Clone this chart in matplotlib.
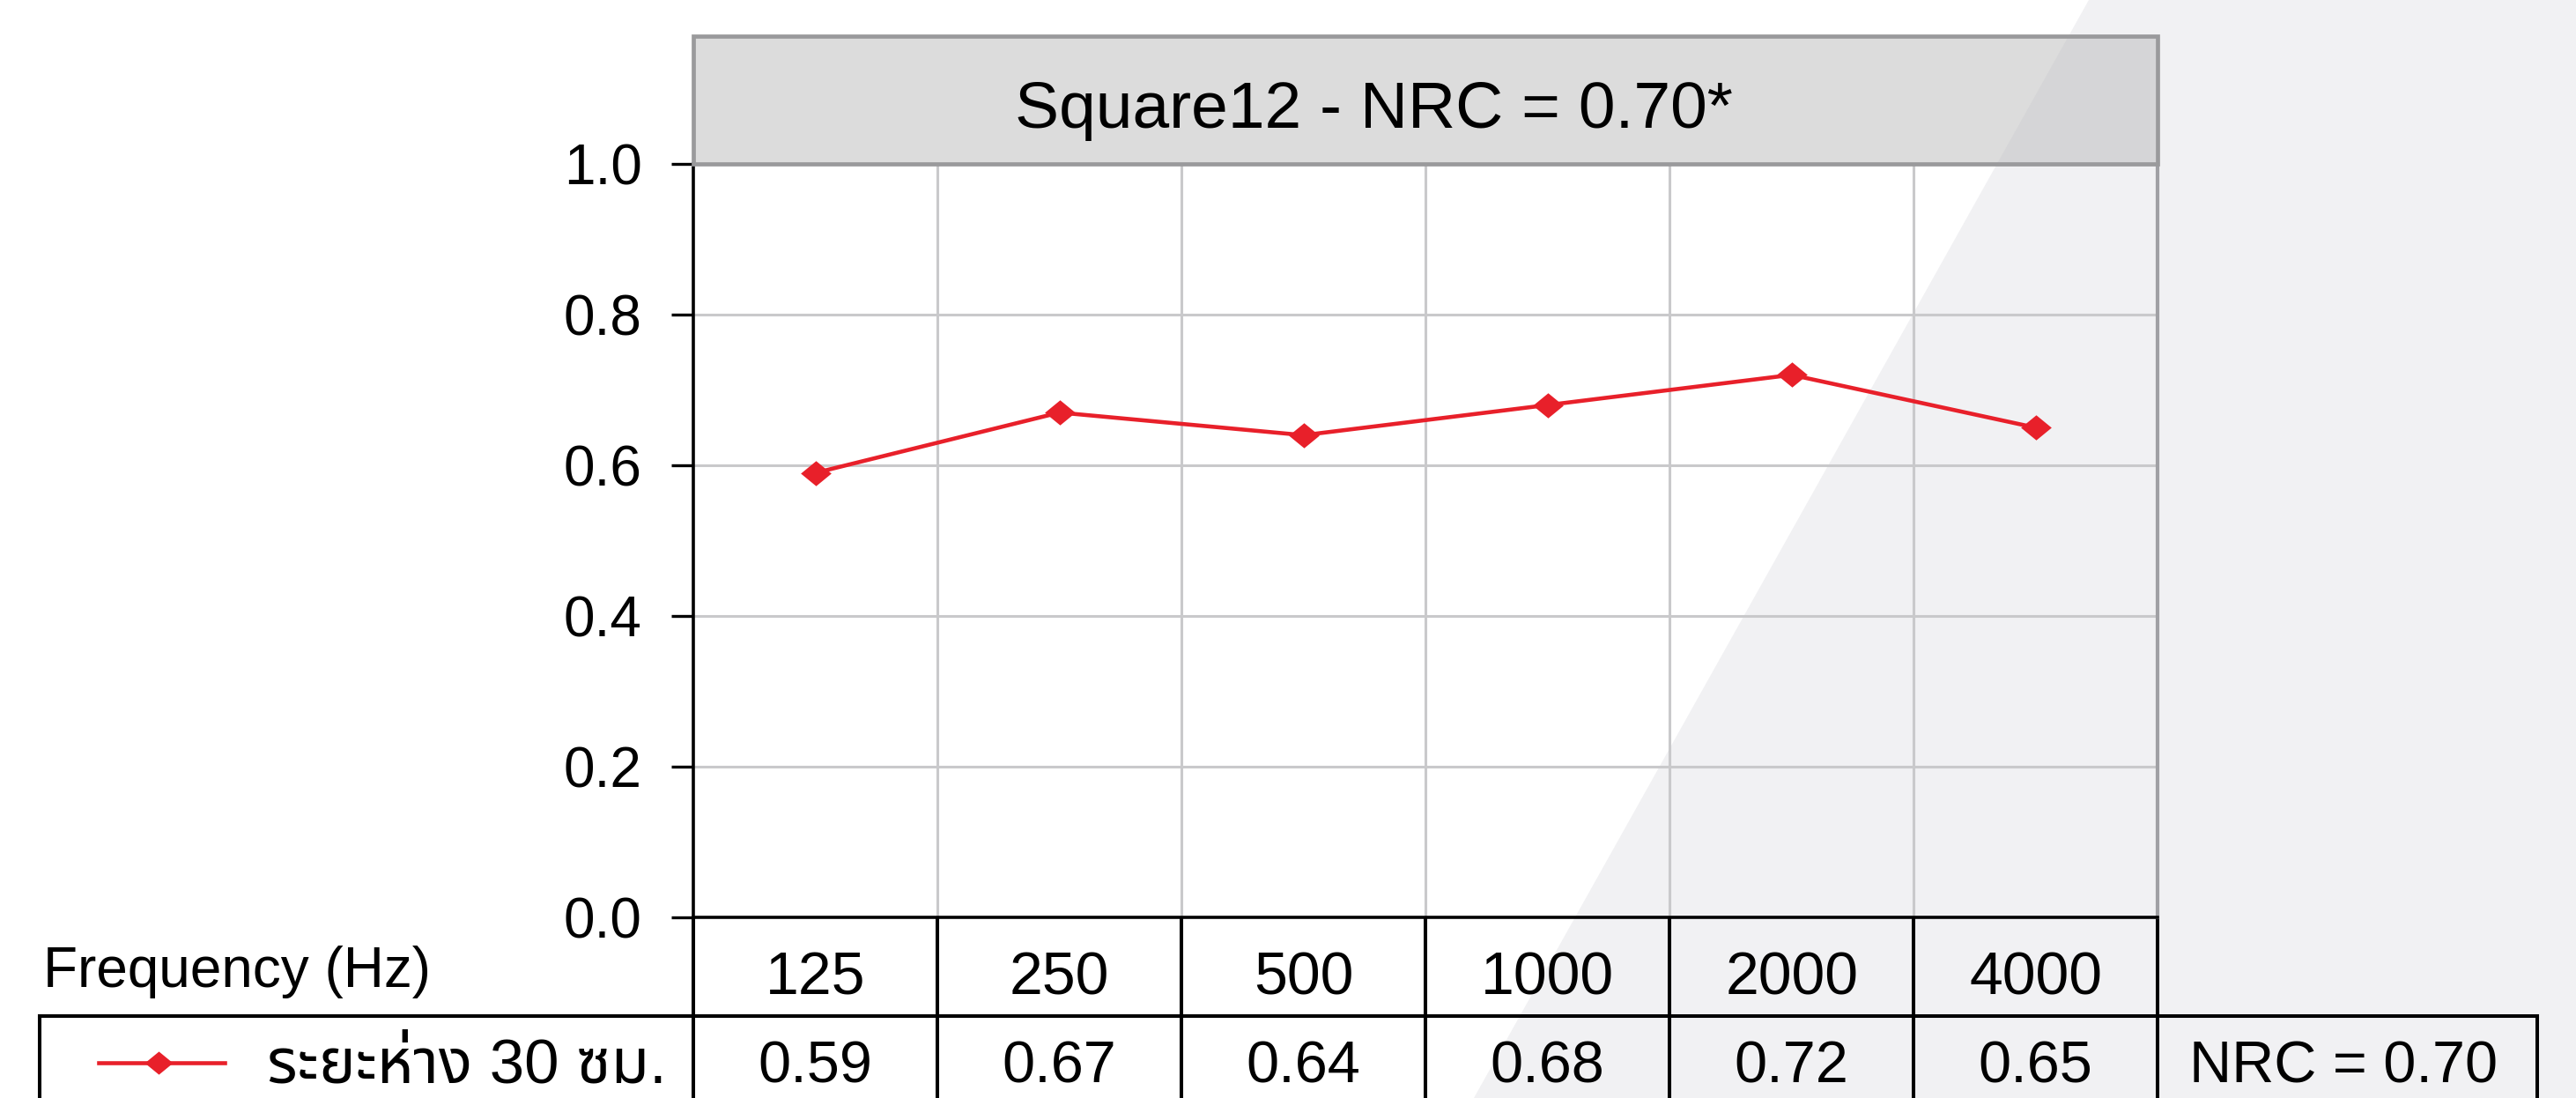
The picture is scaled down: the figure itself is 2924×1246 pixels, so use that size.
import matplotlib
matplotlib.use("Agg")
import matplotlib.pyplot as plt
from matplotlib import font_manager, ft2font
from matplotlib.patches import Polygon, Rectangle
import matplotlib.transforms as mtransforms

# data
frequencies = ["125", "250", "500", "1000", "2000", "4000"]
absorption = [0.59, 0.67, 0.64, 0.68, 0.72, 0.65]
series_label = "ระยะห่าง 30 ซม."
nrc_label = "NRC = 0.70"
title = "Square12 - NRC = 0.70*"
yticks = [0.0, 0.2, 0.4, 0.6, 0.8, 1.0]

# pick a plain (loopless) Thai font for the legend text
thai_fonts = []
for f in font_manager.fontManager.ttflist:
    try:
        if ft2font.FT2Font(f.fname).get_char_index(0x0E23):
            thai_fonts.append(f.name)
    except Exception:
        pass
thai_fonts = sorted(set(thai_fonts))
pref = [n for n in thai_fonts if n == "Noto Sans Thai"] or \
       [n for n in thai_fonts if "Thai" in n and "Looped" not in n and "Serif" not in n]
thai_font = pref[0] if pref else (thai_fonts[0] if thai_fonts else "DejaVu Sans")

base = "Liberation Sans"
plt.rcParams["font.family"] = [base, "DejaVu Sans"]
thai_family = [base, thai_font]

red = "#e8202a"
diamond = [(-1, 0), (0, 0.82), (1, 0), (0, -0.82), (-1, 0)]

fig = plt.figure(figsize=(29.24, 12.46), dpi=100)
fig.patch.set_facecolor("white")

# diagonal grey background
bg_shape = [(0.811, 1), (1, 1), (1, 0), (0.572, 0)]
fig.add_artist(Polygon(bg_shape, closed=True, transform=fig.transFigure,
                       facecolor="#f1f1f3", edgecolor="none", zorder=-5))

ax = fig.add_axes([0.2692, 0.1645, 0.5684, 0.6862])
ax.set_facecolor("none")
x = list(range(len(frequencies)))
ax.plot(x, absorption, color=red, lw=3.3, marker=diamond, markersize=25,
        markeredgewidth=0, zorder=5)

ax.set_xlim(-0.5, len(frequencies) - 0.5)
ax.set_ylim(0, 1.0)
ax.set_yticks(yticks)
ax.set_yticklabels([f"{v:.1f}" for v in yticks], fontsize=46)
ax.set_xticks([])
ax.set_xticks([i + 0.5 for i in range(len(frequencies) - 1)], minor=True)
ax.tick_params(axis="y", length=18, width=2.4, pad=24, color="black")
ax.tick_params(axis="x", which="minor", length=0)
ax.grid(axis="y", color="#c9c9cb", lw=2.2)
ax.grid(axis="x", which="minor", color="#c9c9cb", lw=2.2)
ax.set_axisbelow(True)
ax.spines["left"].set_linewidth(2.6)
ax.spines["bottom"].set_linewidth(2.6)
ax.spines["right"].set_color("#a0a0a4")
ax.spines["right"].set_linewidth(3)
ax.spines["top"].set_visible(False)

# title box
box_h = 0.1696
ax.add_patch(Rectangle((0, 1.0), 1, box_h, transform=ax.transAxes, facecolor="#dcdcdc",
                       edgecolor="none", clip_on=False, zorder=3))
shade = Polygon(bg_shape, closed=True, transform=fig.transFigure, facecolor="#d5d5d7",
                edgecolor="none", zorder=3.5)
ax.add_artist(shade)
shade.set_clip_path(Rectangle((0, 1.0), 1, box_h, transform=ax.transAxes))
ax.add_patch(Rectangle((0, 1.0), 1, box_h, transform=ax.transAxes, facecolor="none",
                       edgecolor="#9a9a9c", lw=3.4, clip_on=False, zorder=4))
ax.text(0.4645, 1.048, title, transform=ax.transAxes, ha="center", va="baseline",
        fontsize=54, zorder=6)

# table under the axes
blend = mtransforms.blended_transform_factory(ax.transData, ax.transAxes)
row1_bot = -0.1310
row2_bot = -0.2597
left_edge = -0.4465
right_edge = 1.2593
lw_tab = 2.9
for i in range(len(frequencies) + 1):
    ax.plot([i - 0.5, i - 0.5], [0, row2_bot], transform=blend, color="black",
            lw=lw_tab, clip_on=False, solid_capstyle="butt")
for yy in (row1_bot, row2_bot):
    ax.plot([left_edge, right_edge], [yy, yy], transform=ax.transAxes,
            color="black", lw=lw_tab, clip_on=False)
for xe in (left_edge, right_edge):
    ax.plot([xe, xe], [row1_bot, row2_bot], transform=ax.transAxes, color="black",
            lw=lw_tab, clip_on=False)

for i, (fr, v) in enumerate(zip(frequencies, absorption)):
    ax.text(i, -0.1018, fr, transform=blend, ha="center", va="baseline", fontsize=49)
    ax.text(i, -0.2187, f"{v:.2f}", transform=blend, ha="center", va="baseline",
            fontsize=48)

ax.text(-0.4440, -0.0924, "Frequency (Hz)", transform=ax.transAxes, ha="left",
        va="baseline", fontsize=46)
ax.text(1.1270, -0.2187, nrc_label, transform=ax.transAxes,
        ha="center", va="baseline", fontsize=48)

# legend entry
ax.plot([-0.4062, -0.3652, -0.3201], [-0.193, -0.193, -0.193], transform=ax.transAxes,
        color=red, lw=3.3, marker=diamond, markersize=23, markeredgewidth=0,
        markevery=[1], clip_on=False)
ax.text(-0.2912, -0.2187, series_label, transform=ax.transAxes, ha="left",
        va="baseline", fontsize=51, family=thai_family)

fig.savefig("out.png", dpi=100)
